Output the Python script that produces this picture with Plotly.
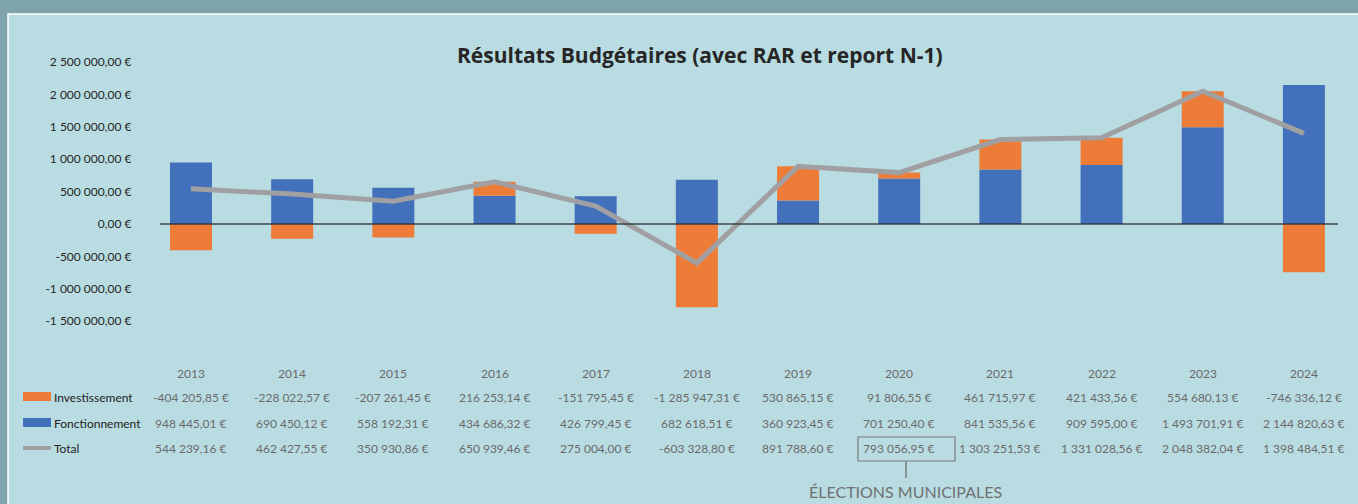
import plotly.graph_objects as go

years = ["2013", "2014", "2015", "2016", "2017", "2018", "2019", "2020", "2021", "2022", "2023", "2024"]
investissement = [-404205.85, -228022.57, -207261.45, 216253.14, -151795.45, -1285947.31,
                  530865.15, 91806.55, 461715.97, 421433.56, 554680.13, -746336.12]
fonctionnement = [948445.01, 690450.12, 558192.31, 434686.32, 426799.45, 682618.51,
                  360923.45, 701250.40, 841535.56, 909595.00, 1493701.91, 2144820.63]
total = [544239.16, 462427.55, 350930.86, 650939.46, 275004.00, -603328.80,
         891788.60, 793056.95, 1303251.53, 1331028.56, 2048382.04, 1398484.51]
y_ticks = [2500000, 2000000, 1500000, 1000000, 500000, 0, -500000, -1000000, -1500000]
y_tick_labels = ["2 500 000,00 €", "2 000 000,00 €", "1 500 000,00 €", "1 000 000,00 €",
                 "500 000,00 €", "0,00 €", "-500 000,00 €", "-1 000 000,00 €", "-1 500 000,00 €"]
series_names = ["Investissement", "Fonctionnement", "Total"]

W, H = 1358, 504
FONT = "Lato"
BLUE = "#4270bb"
ORANGE = "#ec7c38"
GREY = "#a0a0a2"
PANEL = "#b9dce2"


def px(x):
    return x / W


def py(y):
    return 1 - y / H


def fr(v):
    s = f"{abs(v):,.2f}".replace(",", " ").replace(".", ",")
    return ("-" if v < 0 else "") + s + " €"


idx = list(range(len(years)))

fig = go.Figure()
fig.add_trace(go.Bar(x=idx, y=fonctionnement, name=series_names[1], marker=dict(color=BLUE, line=dict(width=0)),
                     showlegend=False))
fig.add_trace(go.Bar(x=idx, y=investissement, name=series_names[0], marker=dict(color=ORANGE, line=dict(width=0)),
                     showlegend=False))
fig.add_trace(go.Scatter(x=idx, y=total, name=series_names[2], mode="lines",
                         line=dict(color=GREY, width=5), showlegend=False))

shapes = []
# panel
shapes.append(dict(type="rect", xref="paper", yref="paper", x0=px(8), x1=px(W + 5), y0=py(H + 5), y1=py(14),
                   fillcolor=PANEL, line=dict(color="white", width=1.5), layer="below"))
# zero line
shapes.append(dict(type="line", xref="paper", yref="y", x0=px(160), x1=px(1338), y0=0, y1=0,
                   line=dict(color="rgba(40,45,50,0.85)", width=1.5), layer="above"))
# legend keys
shapes.append(dict(type="rect", xref="paper", yref="paper", x0=px(23), x1=px(51), y0=py(401), y1=py(392),
                   fillcolor=ORANGE, line=dict(width=0)))
shapes.append(dict(type="rect", xref="paper", yref="paper", x0=px(23), x1=px(51), y0=py(427), y1=py(418),
                   fillcolor=BLUE, line=dict(width=0)))
shapes.append(dict(type="line", xref="paper", yref="paper", x0=px(23), x1=px(51), y0=py(448), y1=py(448),
                   line=dict(color=GREY, width=4)))
# election box + connector
shapes.append(dict(type="rect", xref="paper", yref="paper", x0=px(858), x1=px(955), y0=py(461), y1=py(437),
                   line=dict(color="#7a7a7a", width=1.2), fillcolor="rgba(0,0,0,0)"))
shapes.append(dict(type="line", xref="paper", yref="paper", x0=px(906), x1=px(906), y0=py(461), y1=py(478),
                   line=dict(color="#7a7a7a", width=1.5)))

annotations = []
row_y = {"year": 373, "inv": 397, "fon": 423, "tot": 448}
VAL_FONT = dict(family=FONT, size=12, color="#6a6a6a")
for i in idx:
    annotations.append(dict(x=i, y=py(row_y["year"]), xref="x", yref="paper", text=years[i], showarrow=False,
                            font=VAL_FONT, xanchor="center", yanchor="middle"))
    annotations.append(dict(x=i, y=py(row_y["inv"]), xref="x", yref="paper", text=fr(investissement[i]),
                            showarrow=False, font=VAL_FONT, xanchor="center", yanchor="middle"))
    annotations.append(dict(x=i, y=py(row_y["fon"]), xref="x", yref="paper", text=fr(fonctionnement[i]),
                            showarrow=False, font=VAL_FONT, xanchor="center", yanchor="middle"))
    annotations.append(dict(x=i, y=py(row_y["tot"]), xref="x", yref="paper", text=fr(total[i]),
                            showarrow=False, font=VAL_FONT, xanchor="center", yanchor="middle"))

for name, key in zip(series_names, ["inv", "fon", "tot"]):
    annotations.append(dict(x=px(52), y=py(row_y[key]), xref="paper", yref="paper", text=name, showarrow=False,
                            font=dict(family=FONT, size=12, color="#222222"), xanchor="left", yanchor="middle"))

annotations.append(dict(x=px(905), y=py(491), xref="paper", yref="paper", text="ÉLECTIONS MUNICIPALES",
                        showarrow=False, font=dict(family=FONT, size=16, color="#707070"),
                        xanchor="center", yanchor="middle"))
annotations.append(dict(x=px(700), y=py(55), xref="paper", yref="paper",
                        text="<b>Résultats Budgétaires (avec RAR et report N-1)</b>",
                        showarrow=False, font=dict(family="Open Sans", size=21, color="#262626"),
                        xanchor="center", yanchor="middle"))

fig.update_layout(
    width=W, height=H,
    margin=dict(l=0, r=0, t=0, b=0, pad=0, autoexpand=False),
    paper_bgcolor="#7fa3ad",
    plot_bgcolor="rgba(0,0,0,0)",
    barmode="relative",
    bargap=0.585,
    shapes=shapes,
    annotations=annotations,
    xaxis=dict(domain=[px(140.4), px(1354.5)], range=[-0.5, 11.5], showticklabels=False, showgrid=False,
               zeroline=False, showline=False, ticks="", automargin=False),
    yaxis=dict(domain=[py(321.2), py(62)], range=[-1500000, 2500000], tickvals=y_ticks, ticktext=y_tick_labels,
               showgrid=False, zeroline=False, showline=False, ticks="", ticklabelstandoff=8, automargin=False,
               tickfont=dict(family=FONT, size=12, color="#262626")),
)

fig.write_html("out.html")
